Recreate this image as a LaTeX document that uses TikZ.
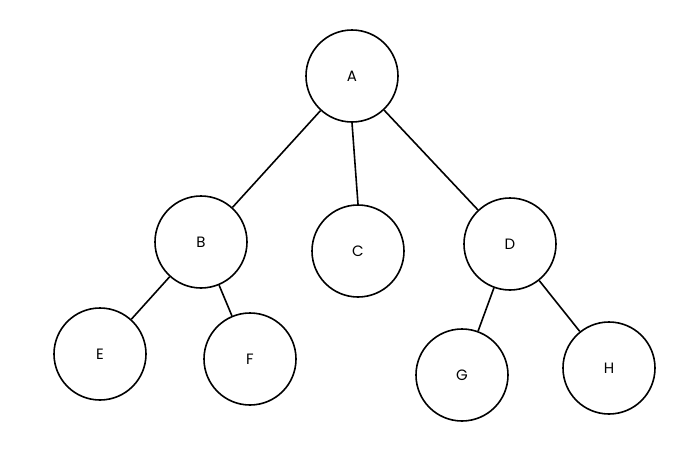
\documentclass[tikz,border=0pt]{standalone}
\usepackage{fontspec}
\setmainfont{Poppins}
\begin{document}
\begin{tikzpicture}[x=1pt,y=-1pt,
  nd/.style={circle,draw,line width=1.6pt,minimum size=92pt,inner sep=0pt,font=\fontsize{15}{15}\selectfont},
  ed/.style={line width=1.6pt}]
\useasboundingbox (0,0) rectangle (697,466);
\node[nd] (A) at (352,76) {A};
\node[nd] (B) at (201,242) {B};
\node[nd] (C) at (358,251) {C};
\node[nd] (D) at (510,244) {D};
\node[nd] (E) at (100,354) {E};
\node[nd] (F) at (250,359) {F};
\node[nd] (G) at (462,375) {G};
\node[nd] (H) at (609,368) {H};
\draw[ed] (A) -- (B);
\draw[ed] (A.south) -- (C.north);
\draw[ed] (A) -- (D);
\draw[ed] (B) -- (E);
\draw[ed] (B) -- (F);
\draw[ed] (D) -- (G);
\draw[ed] (D) -- (H);
\end{tikzpicture}
\end{document}
